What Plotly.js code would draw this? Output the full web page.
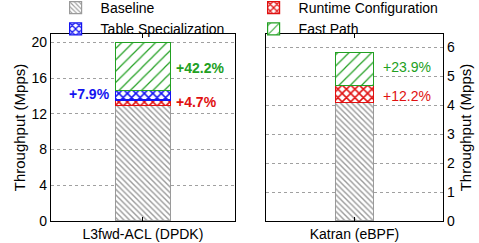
<!DOCTYPE html>
<html>
<head>
<meta charset="utf-8">
<script src="https://cdn.plot.ly/plotly-3.0.1.min.js"></script>
<style>html,body{margin:0;padding:0;background:#fff;}#chart{width:479px;height:243px;}</style>
</head>
<body>
<div id="chart"></div>
<script>
// Data
const categoriesLeft = ["L3fwd-ACL (DPDK)"];
const categoriesRight = ["Katran (eBPF)"];
const seriesNames = ["Baseline", "Runtime Configuration", "Table Specialization", "Fast Path"];
const baselineLeft = [12.95];
const runtimeLeft = [0.6];
const tableLeft = [1.05];
const fastPathLeft = [5.4];
const baselineRight = [4.1];
const runtimeRight = [0.6];
const fastPathRight = [1.13];
const labelsLeft = ["+4.7%", "+7.9%", "+42.2%"];
const labelsRight = ["+12.2%", "+23.9%"];

const FONT = "Liberation Sans, Arial, Helvetica, sans-serif";
const GRAY = "#9a9a9a", RED = "#e01010", BLUE = "#1414f0", GREEN = "#22a022";

const styles = [
  {line: GRAY, pat: {shape: "\\", fgcolor: GRAY, bgcolor: "#ffffff", size: 4, solidity: 0.35}},
  {line: RED, pat: {shape: "x", fgcolor: RED, bgcolor: "#ffffff", size: 6, solidity: 0.45}},
  {line: BLUE, pat: {shape: "x", fgcolor: BLUE, bgcolor: "#ffffff", size: 6, solidity: 0.45}},
  {line: GREEN, pat: {shape: "/", fgcolor: GREEN, bgcolor: "#ffffff", size: 8, solidity: 0.15}}
];

function bar(name, i, x, y, xa, ya, width, show) {
  return {
    type: "bar", name: name, x: x, y: y, xaxis: xa, yaxis: ya, width: width,
    showlegend: show, legendgroup: name, hoverinfo: "skip",
    marker: {color: "#ffffff", line: {color: styles[i].line, width: 1.2}, pattern: styles[i].pat}
  };
}

const traces = [
  bar(seriesNames[0], 0, categoriesLeft, baselineLeft, "x", "y", 0.3, true),
  bar(seriesNames[1], 1, categoriesLeft, runtimeLeft, "x", "y", 0.3, true),
  bar(seriesNames[2], 2, categoriesLeft, tableLeft, "x", "y", 0.3, true),
  bar(seriesNames[3], 3, categoriesLeft, fastPathLeft, "x", "y", 0.3, true),
  bar(seriesNames[0], 0, categoriesRight, baselineRight, "x2", "y2", 0.216, false),
  bar(seriesNames[1], 1, categoriesRight, runtimeRight, "x2", "y2", 0.216, false),
  bar(seriesNames[3], 3, categoriesRight, fastPathRight, "x2", "y2", 0.216, false)
];

// cumulative tops for label placement
const lb = baselineLeft[0], lr = lb + runtimeLeft[0], lt = lr + tableLeft[0], lf = lt + fastPathLeft[0];
const rb = baselineRight[0], rr = rb + runtimeRight[0], rf = rr + fastPathRight[0];

const annotations = [
  {xref: "x", yref: "y", x: 0.17, y: (lb + lr) / 2 + 0.05, text: labelsLeft[0], xanchor: "left", showarrow: false, font: {family: FONT, size: 14, color: RED, weight: "bold"}},
  {xref: "x", yref: "y", x: -0.17, y: (lr + lt) / 2 + 0.15, text: labelsLeft[1], xanchor: "right", showarrow: false, font: {family: FONT, size: 14, color: BLUE, weight: "bold"}},
  {xref: "x", yref: "y", x: 0.17, y: (lt + lf) / 2 - 0.2, text: labelsLeft[2], xanchor: "left", showarrow: false, font: {family: FONT, size: 14, color: GREEN, weight: "bold"}},
  {xref: "x2", yref: "y2", x: 0.15, y: (rb + rr) / 2 - 0.07, text: labelsRight[0], xanchor: "left", showarrow: false, font: {family: FONT, size: 14, color: RED}},
  {xref: "x2", yref: "y2", x: 0.15, y: (rr + rf) / 2 + 0.07, text: labelsRight[1], xanchor: "left", showarrow: false, font: {family: FONT, size: 14, color: GREEN}}
];

const xCommon = {
  type: "category", range: [-0.5, 0.5], showline: true, linecolor: "#000", linewidth: 1.2, mirror: "ticks",
  ticks: "inside", ticklen: 4, tickcolor: "#000", showgrid: false, zeroline: false,
  tickfont: {family: FONT, size: 14, color: "#000"}, fixedrange: true
};
const yCommon = {
  showline: true, linecolor: "#000", linewidth: 1.2, mirror: true, ticks: "", zeroline: false,
  showgrid: true, gridcolor: "#a0a0a0", griddash: "dot", gridwidth: 1,
  tickfont: {family: FONT, size: 14, color: "#000"}, fixedrange: true
};

const layout = {
  width: 479, height: 243,
  margin: {l: 51, r: 36, t: 34, b: 22, autoexpand: false},
  paper_bgcolor: "#fff", plot_bgcolor: "#fff",
  barmode: "stack",
  showlegend: true,
  legend: {
    orientation: "h", x: -0.001, y: 1.224, xanchor: "left", yanchor: "top",
    entrywidth: 143, entrywidthmode: "pixels", traceorder: "normal",
    font: {family: FONT, size: 14, color: "#000"}, bgcolor: "rgba(0,0,0,0)", tracegroupgap: 0, itemwidth: 40
  },
  xaxis: Object.assign({}, xCommon, {domain: [0, 0.469], anchor: "y"}),
  xaxis2: Object.assign({}, xCommon, {domain: [0.548, 1], anchor: "y2"}),
  yaxis: Object.assign({}, yCommon, {range: [0, 20.93], tickvals: [0, 4, 8, 12, 16, 20], anchor: "x",
    title: {text: "Throughput (Mpps)", font: {family: FONT, size: 15, color: "#000"}, standoff: 2}}),
  yaxis2: Object.assign({}, yCommon, {range: [0, 6.47], tickvals: [0, 1, 2, 3, 4, 5, 6], anchor: "x2", side: "right",
    title: {text: "Throughput (Mpps)", font: {family: FONT, size: 15, color: "#000"}, standoff: 6}}),
  annotations: annotations
};

Plotly.newPlot("chart", traces, layout, {displayModeBar: false, staticPlot: true});
</script>
</body>
</html>
